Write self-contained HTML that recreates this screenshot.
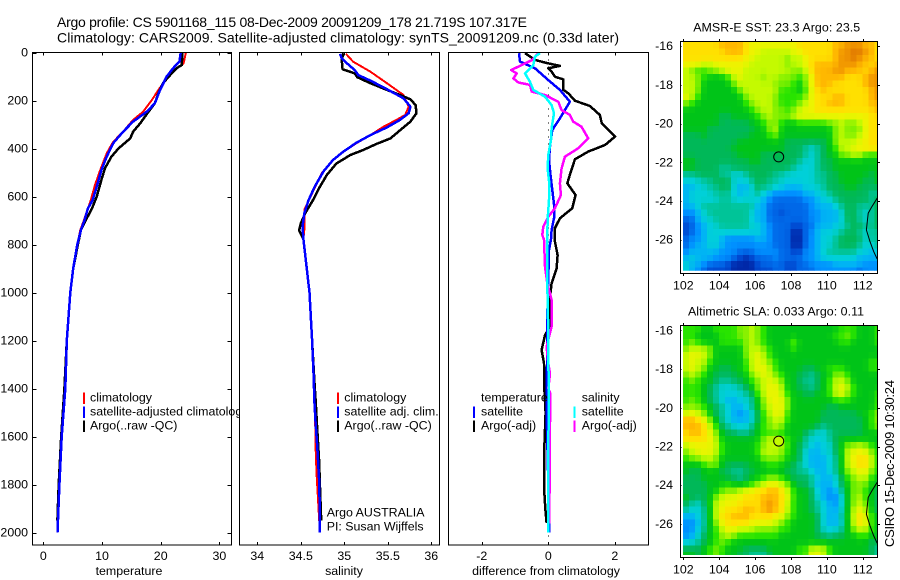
<!DOCTYPE html>
<html>
<head>
<meta charset="utf-8">
<title>Argo profile</title>
<style>
html,body{margin:0;padding:0;background:#fff;}
svg{display:block;}
text{font-family:"Liberation Sans",sans-serif;font-size:12.4px;fill:#000;}
</style>
</head>
<body>
<svg id="fig" xmlns="http://www.w3.org/2000/svg" width="900" height="580" viewBox="0 0 900 580"></svg>
<script>
// ---- temperature panel ----
const tempClimP = [0,45,66,108,156,198,247,281,330,372,420,490,552,615,700,740,800,900,1000,1200,1400,1600,1800,2000];
const tempClimV = [24.3,23.9,22.7,21.0,19.6,18.5,17.0,15.3,13.6,11.9,10.8,9.7,8.8,8.1,6.9,6.3,5.8,5.1,4.6,4.0,3.7,3.1,2.75,2.4];
const tempSatP = [0,38,66,101,156,212,247,288,330,378,434,490,559,615,650,700,740,800,900,1000,1200,1400,1600,1800,2000];
const tempSatV = [23.4,23.2,22.1,21.0,19.9,19.0,17.6,15.3,13.6,11.9,10.8,9.9,9.1,8.4,7.6,7.0,6.4,5.8,5.1,4.6,4.0,3.75,3.13,2.75,2.42];
const tempArgoP = [0,52,66,94,128,170,212,247,295,330,358,400,434,483,531,601,650,700,740,800,900,1000,1200,1400,1600,1800,1950];
const tempArgoV = [23.7,23.6,22.7,21.6,20.4,19.6,19.0,17.9,16.5,15.3,14.8,12.8,11.6,10.5,9.9,9.1,8.3,7.2,6.4,5.9,5.1,4.6,4.0,3.6,3.05,2.62,2.4];
const tempTicks = [0,10,20,30];
const pressureTicks = [0,200,400,600,800,1000,1200,1400,1600,1800,2000];

// ---- salinity panel ----
const salClimP = [6,38,80,128,177,226,260,281,309,344,378,413,448,503,587,656,739,777,1000,1200,1365,1544,1644,1750,2000];
const salClimV = [35.02,35.10,35.30,35.49,35.68,35.74,35.70,35.60,35.45,35.30,35.14,34.99,34.87,34.74,34.63,34.54,34.54,34.53,34.6,34.63,34.65,34.665,34.67,34.68,34.72];
const salSatP = [6,24,45,73,94,117,153,191,226,253,281,312,344,376,413,448,496,559,615,670,726,777,1000,1200,1365,1448,1544,1644,1781,1920,2000];
const salSatV = [34.95,34.97,35.03,35.12,35.16,35.30,35.49,35.68,35.76,35.74,35.64,35.49,35.30,35.14,34.99,34.87,34.76,34.66,34.59,34.54,34.52,34.53,34.6,34.63,34.65,34.655,34.67,34.69,34.71,34.72,34.72];
const salArgoP = [3,31,70,87,103,128,156,177,195,219,253,288,312,358,381,406,427,462,510,559,615,670,712,742,777,1000,1200,1365,1448,1544,1700,1800,1950];
const salArgoV = [34.99,34.97,34.98,35.12,35.15,35.30,35.49,35.64,35.76,35.82,35.83,35.76,35.68,35.53,35.37,35.22,35.07,34.91,34.80,34.72,34.64,34.55,34.50,34.48,34.53,34.6,34.63,34.655,34.67,34.685,34.71,34.72,34.735];
const salTicks = [34,34.5,35,35.5,36];

// ---- difference panel ----
const diffTArgoP = [3,31,42,56,66,80,101,112,156,170,201,223,260,295,350,385,413,445,496,545,594,649,691,732,747,788,844,899,962,1017,1142,1177,1240,1295,1399,1500,1650,1830,1900,1960];
const diffTArgoV = [-0.70,-0.40,-0.10,0.35,0.0,0.10,0.20,0.45,0.45,0.60,0.80,1.25,1.55,1.61,2.01,1.71,1.20,0.80,0.68,0.57,0.82,0.72,0.35,0.20,0.20,0.20,0.28,0.25,0.10,0.05,0.05,-0.10,-0.20,-0.13,-0.12,-0.08,-0.12,-0.12,-0.09,-0.05];
const diffTSatP = [3,38,66,115,156,205,274,323,392,448,503,573,642,684,739,777,823,1100,1170,1500,1962,2000];
const diffTSatV = [-0.88,-0.85,-0.40,0.0,0.35,0.65,0.35,0.12,0.05,0.02,0.06,0.12,0.18,0.18,0.10,0.08,0.02,-0.03,-0.03,-0.05,0.03,0.03];
const diffSArgoP = [3,31,56,73,87,108,125,135,163,177,205,240,260,288,309,358,399,434,483,545,594,649,684,726,760,781,892,962,1031,1142,1226,1295,1337,1400,1420,1545,1962];
const diffSArgoV = [-0.30,-0.48,-0.85,-1.12,-0.95,-1.05,-0.90,-0.55,-0.50,-0.10,0.30,0.40,0.65,0.75,1.0,1.20,0.90,0.50,0.40,0.35,0.38,0.20,0.0,-0.15,-0.18,-0.13,-0.10,-0.03,0.10,0.10,-0.05,0.0,0.05,0.0,0.06,0.05,0.03];
const diffSSatP = [3,17,52,87,122,156,184,219,253,316,365,427,483,545,615,698,777,962,1170,1400,2000];
const diffSSatV = [-0.25,-0.40,-0.45,-0.70,-0.55,-0.45,-0.10,0.10,0.17,0.10,0.08,0.0,-0.02,0.03,0.02,-0.02,-0.03,-0.03,0.0,0.01,0.0];
const diffTicks = [-2,0,2];

// ---- maps ----
const lonTicks = [102,104,106,108,110,112];
const latTicks = [-16,-18,-20,-22,-24,-26];
const coastLon = [112.8,112.5,112.3,112.2,112.4,112.6,112.8];
const coastLat = [-23.85,-24.3,-24.63,-25.5,-26.1,-26.6,-27.0];
const floatLon = 107.317;
const floatLat = -21.719;
const levelColors = [[0,40,168],[0,72,208],[0,104,232],[0,144,255],[0,180,244],[0,208,216],[0,196,152],[0,184,88],[0,196,24],[40,228,0],[128,240,0],[196,250,0],[236,244,0],[255,224,0],[255,184,0],[240,148,0],[224,120,0]];
const sstGrid = [
[13,13,13,13,13,13,14,14,14,14,13,12,12,12,12,12,12,12,12,13,13,13,13,13,13,14,14,15,15,15,14,14,13],
[13,13,13,13,13,13,13,14,14,14,13,12,12,11,11,11,11,11,12,12,13,13,13,13,13,14,15,15,16,16,15,14,13],
[13,13,13,13,13,13,13,13,13,13,12,12,11,11,11,11,11,10,11,11,12,13,13,13,13,14,15,15,16,15,14,14,13],
[12,12,12,11,11,12,12,12,12,12,12,11,11,11,11,11,11,10,11,11,12,13,14,14,14,14,15,15,15,14,14,13,14],
[11,10,9,9,10,10,11,12,12,12,11,11,11,11,11,11,11,11,10,10,11,13,14,14,14,15,15,14,14,14,13,14,15],
[11,11,10,9,8,8,8,9,11,12,11,11,11,10,11,11,10,10,10,9,10,12,14,14,14,14,14,13,13,13,14,15,15],
[11,11,10,8,8,8,8,8,10,11,11,11,11,11,11,10,10,10,9,8,10,12,14,14,14,13,13,13,13,13,14,15,15],
[11,11,10,8,8,8,8,8,8,10,11,11,11,11,11,11,9,9,9,8,9,12,13,14,13,13,13,13,13,13,13,14,15],
[12,11,9,8,8,8,8,8,8,8,10,11,11,11,11,10,9,9,9,9,10,12,13,13,13,14,14,13,13,13,13,14,15],
[10,9,8,8,8,8,8,8,8,8,9,10,11,11,11,10,9,9,9,10,11,12,13,13,14,14,14,13,13,13,13,14,14],
[8,8,8,8,8,8,8,8,8,8,8,9,10,11,11,10,10,9,10,11,12,12,13,13,13,13,13,13,13,13,13,13,14],
[8,8,8,8,8,8,7,7,8,8,8,8,9,10,11,10,10,10,11,12,12,12,12,12,12,12,12,12,12,12,12,13,13],
[8,8,8,8,8,8,7,7,7,7,7,8,8,9,10,10,9,8,8,9,9,9,9,9,10,10,11,10,10,11,12,13,13],
[8,8,8,8,7,7,7,7,7,7,7,7,8,8,10,11,8,8,8,8,8,8,8,8,8,10,11,10,10,10,12,13,13],
[7,7,7,8,7,7,7,7,7,7,7,8,8,8,9,10,8,8,8,8,8,8,8,8,8,10,11,10,10,11,12,13,13],
[7,7,7,7,7,7,7,7,7,8,8,8,8,8,8,8,8,7,7,7,7,7,7,7,8,10,11,11,11,12,12,13,13],
[7,7,7,7,7,7,7,7,8,8,8,8,8,8,8,8,8,7,7,7,6,5,6,7,8,9,11,11,12,12,13,13,13],
[7,7,7,7,7,7,7,7,7,8,8,8,8,7,7,7,7,7,7,7,6,5,6,7,8,8,10,10,11,11,9,9,9],
[8,8,7,7,7,7,7,7,7,7,7,8,8,7,7,7,7,7,7,6,5,5,6,7,7,8,8,8,8,8,8,8,8],
[8,8,7,7,7,7,6,6,7,7,7,7,7,7,7,7,7,7,6,5,5,5,6,7,7,8,8,8,8,8,8,8,8],
[6,6,7,7,7,7,6,6,5,5,6,7,7,7,7,6,6,5,5,5,5,5,6,6,7,7,8,8,8,8,8,7,8],
[5,5,5,6,6,7,7,7,5,5,5,6,7,7,6,6,5,5,5,5,5,5,6,6,7,7,8,8,8,8,7,7,8],
[4,4,5,5,6,6,7,7,5,4,4,5,7,6,6,5,5,4,4,4,5,5,5,6,7,7,7,8,8,7,7,7,7],
[4,5,5,5,5,6,6,6,5,4,5,5,6,5,4,3,3,3,3,3,4,4,5,5,6,7,7,7,7,7,7,6,6],
[4,5,5,5,5,5,6,6,5,5,5,5,5,4,3,2,2,2,2,2,3,3,4,5,5,6,7,7,7,7,7,6,7],
[4,4,5,6,6,6,6,6,6,6,6,6,4,4,2,2,2,2,2,2,2,3,4,4,4,5,6,7,7,6,6,6,7],
[3,3,4,5,6,6,6,6,6,6,6,5,4,4,2,2,1,2,2,2,2,3,3,4,4,4,5,7,7,6,5,6,7],
[2,2,4,5,5,6,6,6,6,6,6,5,4,4,2,2,2,2,2,2,2,3,3,4,4,4,5,7,7,6,5,6,7],
[1,2,3,4,5,5,6,6,6,6,6,5,5,4,3,2,2,2,1,1,2,2,4,4,4,5,5,6,7,7,6,6,7],
[1,2,3,4,5,5,5,5,5,5,5,5,5,4,3,2,2,2,0,0,2,3,4,5,5,5,6,7,7,6,5,6,6],
[2,3,3,4,5,5,4,3,3,3,3,3,4,4,3,2,2,2,0,0,2,3,4,5,5,6,7,7,7,7,5,6,6],
[2,3,4,4,5,5,4,3,3,3,3,3,3,3,3,2,2,2,0,0,2,3,4,5,5,6,7,7,7,6,5,5,6],
[3,4,4,4,4,4,3,3,3,2,2,2,3,3,3,3,2,2,1,1,3,3,4,5,6,6,6,6,6,5,5,4,5],
[4,5,4,4,4,3,3,3,2,1,0,1,2,2,2,3,2,2,2,2,3,3,4,5,5,5,5,5,5,4,4,4,4],
[5,4,4,3,2,2,2,1,0,0,0,0,1,2,2,2,2,1,1,2,2,3,3,3,3,4,4,4,4,4,3,3,3],
[5,4,3,2,1,1,1,1,0,0,0,0,1,1,1,2,2,1,1,2,2,2,3,3,3,3,3,3,3,2,3,3,3]
];
const slaGrid = [
[9,9,9,8,8,9,9,9,9,10,10,11,10,9,8,8,8,8,8,8,8,8,8,8,8,8,9,9,9,8,8,8,9],
[9,9,8,8,8,8,9,9,9,10,10,11,10,9,8,8,8,8,8,8,8,8,8,8,8,9,9,10,9,8,8,8,9],
[9,10,9,8,8,8,9,9,9,9,10,11,10,9,8,8,8,8,10,8,8,8,8,8,8,8,9,9,8,8,8,8,9],
[10,11,11,11,10,8,8,8,8,8,10,11,11,10,9,8,8,8,9,8,8,8,8,8,8,8,8,8,8,8,8,8,8],
[11,12,12,11,10,8,8,8,8,8,10,11,12,11,9,8,8,8,8,8,8,8,8,8,8,8,8,8,8,8,8,8,8],
[11,12,11,11,9,8,8,8,8,8,9,11,12,11,10,9,8,8,8,8,8,8,8,8,8,8,8,8,8,8,8,9,9],
[11,12,11,10,8,8,7,7,8,8,9,11,12,12,11,9,8,8,8,8,7,7,8,8,9,9,9,8,8,8,8,9,9],
[10,11,10,9,8,7,7,7,7,8,8,10,11,12,11,10,9,8,8,7,7,6,7,8,8,10,10,9,8,8,8,8,8],
[9,10,9,8,8,7,6,6,7,7,8,9,10,11,12,11,10,8,8,7,6,6,7,8,9,11,11,10,8,8,8,8,8],
[9,9,9,8,7,6,5,5,5,6,7,8,10,11,12,12,11,8,8,7,7,6,7,8,9,11,12,11,9,8,8,8,8],
[9,9,9,8,7,6,5,5,5,5,6,7,9,11,12,12,11,9,8,8,7,7,8,8,9,11,12,10,9,8,8,8,9],
[9,10,9,8,7,6,5,4,4,5,5,6,8,10,12,12,12,10,8,8,8,8,8,8,8,9,9,9,8,8,8,8,9],
[10,10,10,9,8,7,6,5,4,4,5,6,8,10,11,12,12,10,8,8,8,8,8,8,7,7,8,8,8,8,8,8,9],
[11,12,11,10,8,7,6,5,4,3,4,5,7,9,11,12,12,9,8,8,8,8,8,7,7,7,7,7,7,8,8,9,10],
[14,14,13,12,10,8,6,5,4,4,4,5,7,9,10,11,11,9,8,8,8,8,8,7,7,7,7,7,7,7,8,9,10],
[14,14,14,13,11,9,7,6,5,5,5,6,8,9,10,11,10,8,8,8,8,8,7,6,7,7,7,7,7,7,8,9,10],
[13,14,14,13,12,10,8,7,7,6,6,7,8,9,9,9,9,8,8,8,7,6,5,5,6,7,7,7,7,7,8,8,8],
[13,13,13,13,12,11,8,8,8,8,8,8,8,10,11,11,10,9,8,8,6,5,5,5,6,7,8,8,8,8,8,8,8],
[11,12,12,12,12,11,9,8,8,8,8,8,9,10,11,11,11,9,8,7,6,5,4,5,5,7,8,10,10,11,10,9,8],
[10,11,12,12,12,11,9,8,8,8,8,8,9,11,11,11,10,9,8,7,5,4,4,5,5,7,8,11,12,12,12,10,9],
[9,10,10,11,11,10,8,8,8,8,8,8,8,10,10,10,10,8,8,7,5,4,4,4,5,6,8,11,12,13,13,11,9],
[8,8,8,9,10,10,8,7,7,7,7,8,8,8,9,9,8,8,7,6,5,4,4,4,5,6,8,11,12,13,13,11,9],
[8,7,7,8,8,8,7,7,6,6,7,7,8,8,8,8,8,7,7,6,6,5,4,4,5,6,8,10,11,12,12,10,9],
[7,7,7,8,8,8,8,7,7,6,7,8,8,9,10,10,9,8,7,7,7,6,5,4,4,5,7,9,10,11,11,9,8],
[7,7,7,7,8,8,8,9,8,8,8,9,10,11,12,12,11,10,8,7,7,6,4,4,4,5,7,8,10,10,10,8,8],
[7,7,7,7,8,8,10,10,10,11,12,12,13,13,14,14,13,11,9,8,8,7,5,4,3,4,6,8,10,10,9,8,7],
[8,7,7,7,8,10,11,12,12,12,13,13,13,14,14,14,13,12,9,8,8,7,5,4,3,3,5,8,10,11,9,8,7],
[7,6,5,7,8,11,12,12,12,13,13,13,13,14,15,14,13,11,9,8,8,7,6,5,4,3,5,8,10,11,10,8,7],
[6,5,5,6,8,11,12,13,13,13,14,14,13,14,15,14,13,11,9,8,8,7,6,5,4,4,5,8,11,12,11,8,7],
[4,4,5,6,8,11,13,13,14,14,14,13,13,13,13,12,12,10,9,8,8,8,7,5,4,4,6,8,11,13,12,9,8],
[3,3,4,6,8,10,12,13,13,13,13,12,12,12,12,11,10,9,8,8,8,8,7,5,4,4,5,8,11,13,12,9,8],
[3,3,5,6,8,9,11,12,12,11,11,11,10,10,10,10,9,9,8,8,8,8,7,5,5,5,6,8,10,11,11,9,8],
[3,4,5,7,8,9,10,11,10,9,9,9,9,9,9,9,8,8,8,8,8,8,7,7,6,7,7,8,8,9,9,8,8],
[5,5,6,7,8,9,10,9,8,8,8,8,8,8,8,8,8,8,8,8,8,8,8,8,8,8,8,8,8,8,8,7,7],
[7,7,7,8,9,10,9,8,8,8,7,7,7,7,8,8,8,8,8,9,9,11,11,11,9,8,8,8,8,8,8,7,6],
[8,8,7,8,9,10,9,8,8,7,7,6,6,6,7,8,8,8,8,9,9,12,12,11,9,8,8,8,8,8,8,7,6]
];

const svg = document.getElementById('fig');
const NS = 'http://www.w3.org/2000/svg';

function make(tag, name, attrs, parent) {
  const el = document.createElementNS(NS, tag);
  
  
  for (const k in attrs) el.setAttribute(k, attrs[k]);
  (parent || svg).appendChild(el);
  return el;
}
function label(str, x, y, anchor, name, extra) {
  const t = make('text', name, Object.assign({x: x, y: y, 'text-anchor': anchor || 'start'}, extra || {}));
  t.textContent = str;
  return t;
}
function tick(x1, y1, x2, y2, name) {
  make('line', name, {x1: x1, y1: y1, x2: x2, y2: y2, stroke: '#000', 'stroke-width': 1, 'shape-rendering': 'crispEdges'});
}

// profile panel geometry
const PTOP = 52.5, PBOT = 545, PRES_SCALE = 0.24;
function yP(p) { return PTOP + p * PRES_SCALE; }
function xTemp(v) { return 43.3 + (v - 0) * 5.87; }
function xSal(v) { return 344.3 + (v - 35) * 87; }
function xDiff(v) { return 548.3 + v * 33.25; }

function panelFrame(name, left, right) {
  make('rect', name + '-background', {x: left, y: PTOP, width: right - left, height: PBOT - PTOP, fill: '#fff', stroke: 'none'});
}
function panelBox(name, left, right) {
  make('rect', name + '-frame', {x: left, y: PTOP, width: right - left, height: PBOT - PTOP, fill: 'none', stroke: '#000', 'stroke-width': 1, 'shape-rendering': 'crispEdges'});
}
function series(name, pList, vList, xf, color, width) {
  const pts = pList.map((p, i) => xf(vList[i]).toFixed(1) + ',' + yP(p).toFixed(1)).join(' ');
  make('polyline', name, {points: pts, fill: 'none', stroke: color, 'stroke-width': width || 2, 'stroke-linejoin': 'round', 'shape-rendering': 'crispEdges'});
}
function xAxis(ticks, xf, name) {
  ticks.forEach(v => {
    const x = Math.round(xf(v)) + 0.5;
    tick(x, PTOP, x, PTOP + 3, name + '-top-tick');
    tick(x, PBOT, x, PBOT - 3, name + '-bottom-tick');
    label(String(v), xf(v), 560, 'middle', name + '-tick-label');
  });
}
function legendBar(x, y, color, name) {
  make('rect', name, {x: x, y: y, width: 2, height: 11.5, fill: color, 'shape-rendering': 'crispEdges'});
}

// Panel 1
panelFrame('temperature-panel', 32.5, 231.5);
series('temperature-climatology-line', tempClimP, tempClimV, xTemp, '#ff0000');
series('temperature-argo-line', tempArgoP, tempArgoV, xTemp, '#000000', 2.5);
series('temperature-satellite-line', tempSatP, tempSatV, xTemp, '#0000ff', 2.5);
panelBox('temperature-panel', 32.5, 231.5);
xAxis(tempTicks, xTemp, 'temperature-axis');
pressureTicks.forEach(p => {
  const y = Math.round(yP(p)) + 0.5;
  tick(32.5, y, 36.5, y, 'pressure-left-tick');
  tick(231.5, y, 227.5, y, 'pressure-right-tick');
  label(String(p), 28, yP(p) + 4, 'end', 'pressure-tick-label');
});
label('temperature', 129, 575, 'middle', 'temperature-axis-title');
legendBar(83, 392.7, '#ff0000', 'legend-climatology-swatch');
legendBar(83, 406.7, '#0000ff', 'legend-satellite-swatch');
legendBar(83, 420.7, '#000000', 'legend-argo-swatch');
label('climatology', 90, 401.7, 'start', 'legend-climatology-label');
label('satellite-adjusted climatology', 90, 415.7, 'start', 'legend-satellite-label');
label('Argo(..raw -QC)', 90, 429.7, 'start', 'legend-argo-label');

// Panel 2
panelFrame('salinity-panel', 239.5, 439.5);
series('salinity-climatology-line', salClimP, salClimV, xSal, '#ff0000');
series('salinity-argo-line', salArgoP, salArgoV, xSal, '#000000', 2.5);
series('salinity-satellite-line', salSatP, salSatV, xSal, '#0000ff', 2.5);
panelBox('salinity-panel', 239.5, 439.5);
xAxis(salTicks, xSal, 'salinity-axis');
label('salinity', 344, 575, 'middle', 'salinity-axis-title');
legendBar(337, 392.7, '#ff0000', 'salinity-legend-climatology-swatch');
legendBar(337, 406.7, '#0000ff', 'salinity-legend-satellite-swatch');
legendBar(337, 420.7, '#000000', 'salinity-legend-argo-swatch');
label('climatology', 344.3, 401.7, 'start', 'salinity-legend-climatology-label');
label('satellite adj. clim.', 344.3, 415.7, 'start', 'salinity-legend-satellite-label');
label('Argo(..raw -QC)', 344.3, 429.7, 'start', 'salinity-legend-argo-label');
label('Argo AUSTRALIA', 326.7, 516.7, 'start', 'argo-australia-note');
label('PI: Susan Wijffels', 326.7, 530.7, 'start', 'principal-investigator-note');

// Panel 3
panelFrame('difference-panel', 448.5, 648.5);
make('line', 'zero-reference-line', {x1: xDiff(0), y1: PTOP, x2: xDiff(0), y2: PBOT, stroke: '#000', 'stroke-width': 1, 'stroke-dasharray': '1 6', 'shape-rendering': 'crispEdges'});
series('difference-temperature-argo-line', diffTArgoP, diffTArgoV, xDiff, '#000000', 2.5);
series('difference-temperature-satellite-line', diffTSatP, diffTSatV, xDiff, '#0000ff', 2.5);
series('difference-salinity-argo-line', diffSArgoP, diffSArgoV, xDiff, '#ff00ff', 2.5);
series('difference-salinity-satellite-line', diffSSatP, diffSSatV, xDiff, '#00ffff', 2.5);
panelBox('difference-panel', 448.5, 648.5);
xAxis(diffTicks, xDiff, 'difference-axis');
label('difference from climatology', 546, 575, 'middle', 'difference-axis-title');
label('temperature', 481, 401.7, 'start', 'difference-legend-temperature-heading');
label('satellite', 481, 415.7, 'start', 'difference-legend-temperature-satellite-label');
label('Argo(-adj)', 481, 429.7, 'start', 'difference-legend-temperature-argo-label');
label('salinity', 581.7, 401.7, 'start', 'difference-legend-salinity-heading');
label('satellite', 581.7, 415.7, 'start', 'difference-legend-salinity-satellite-label');
label('Argo(-adj)', 581.7, 429.7, 'start', 'difference-legend-salinity-argo-label');
legendBar(473, 406.7, '#0000ff', 'difference-legend-temperature-satellite-swatch');
legendBar(473, 420.7, '#000000', 'difference-legend-temperature-argo-swatch');
legendBar(573.5, 406.7, '#00ffff', 'difference-legend-salinity-satellite-swatch');
legendBar(573.5, 420.7, '#ff00ff', 'difference-legend-salinity-argo-swatch');

// Maps
const LON_SCALE = 17.95, LAT_SCALE = 19.35, CELL = 1 / 3;
const GRID_LON0 = 101.98, GRID_LAT0 = -15.78;
function levelColor(v) {
  const lo = Math.max(0, Math.min(levelColors.length - 1, Math.floor(v)));
  const hi = Math.min(levelColors.length - 1, lo + 1);
  const f = v - lo;
  const a = levelColors[lo], b = levelColors[hi];
  return 'rgb(' + [0, 1, 2].map(i => Math.round(a[i] + (b[i] - a[i]) * f)).join(',') + ')';
}
function softened(grid, r, c) {
  const at = (rr, cc) => (grid[rr] && grid[rr][cc] !== undefined) ? grid[rr][cc] : grid[r][c];
  return (4 * grid[r][c] + at(r - 1, c) + at(r + 1, c) + at(r, c - 1) + at(r, c + 1)) / 8;
}
function drawMap(name, grid, yOf16, boxTop, imgBottom, labelY, markerFill) {
  const boxL = 680.5, boxR = 877.5, boxB = boxTop + 232;
  const mapX = lon => 683.3 + (lon - 102) * LON_SCALE;
  const mapY = lat => yOf16 + (-16 - lat) * LAT_SCALE;
  const clipId = name + '-clip';
  const defs = make('clipPath', name + '-clip-region', {id: clipId});
  make('rect', name + '-clip-rect', {x: 681.5, y: boxTop, width: boxR - 681.5, height: imgBottom - boxTop}, defs);
  const group = make('g', name + '-heatmap', {'clip-path': 'url(#' + clipId + ')'});
  grid.forEach((row, r) => {
    row.forEach((v, c) => {
      const lonW = GRID_LON0 + c * CELL;
      const latN = GRID_LAT0 - r * CELL;
      const x0 = mapX(lonW), x1 = mapX(lonW + CELL);
      const y0 = mapY(latN), y1 = mapY(latN - CELL);
      make('rect', name + '-cell', {x: x0.toFixed(2), y: y0.toFixed(2), width: (x1 - x0 + 0.4).toFixed(2), height: (y1 - y0 + 0.4).toFixed(2), fill: levelColor(softened(grid, r, c)), 'shape-rendering': 'crispEdges'}, group);
    });
  });
  const coastPts = coastLon.map((lo, i) => mapX(lo).toFixed(1) + ',' + mapY(coastLat[i]).toFixed(1)).join(' ');
  make('polyline', name + '-coastline', {points: coastPts, fill: 'none', stroke: '#000', 'stroke-width': 1, 'clip-path': 'url(#' + clipId + ')'});
  make('rect', name + '-frame', {x: boxL, y: boxTop, width: boxR - boxL, height: boxB - boxTop, fill: 'none', stroke: '#000', 'stroke-width': 1, 'shape-rendering': 'crispEdges'});
  lonTicks.forEach(v => {
    const x = Math.round(mapX(v)) + 0.5;
    tick(x, boxTop, x, boxTop - 2.5, name + '-x-top-tick');
    tick(x, boxB, x, boxB + 2.5, name + '-x-bottom-tick');
    label(String(v), mapX(v), labelY, 'middle', name + '-longitude-label');
  });
  latTicks.forEach(v => {
    const y = Math.round(mapY(v)) + 0.5;
    tick(boxL, y, boxL + 1, y, name + '-y-left-tick');
    tick(boxR, y, boxR + 2.5, y, name + '-y-right-tick');
    label(String(v), 673, mapY(v) + 4, 'end', name + '-latitude-label');
  });
  make('circle', name + '-float-marker', {cx: mapX(floatLon).toFixed(1), cy: mapY(floatLat).toFixed(1), r: 5, fill: markerFill, stroke: '#000', 'stroke-width': 1});
}
drawMap('sst-map', sstGrid, 46.2, 41.5, 270.7, 289.3, 'none');
drawMap('sla-map', slaGrid, 330.4, 325.5, 555, 573.3, '#c4fa00');
label('AMSR-E SST: 23.3 Argo: 23.5', 776.7, 31.7, 'middle', 'sst-map-title', {textLength: 167, lengthAdjust: 'spacing'});
label('Altimetric SLA: 0.033 Argo: 0.11', 776, 315.7, 'middle', 'sla-map-title', {textLength: 176, lengthAdjust: 'spacing'});

// Titles
label('Argo profile: CS 5901168_115 08-Dec-2009 20091209_178 21.719S 107.317E', 57, 27, 'start', 'figure-title-line-1', {textLength: 470, lengthAdjust: 'spacing', style: 'font-size:14px'});
label('Climatology: CARS2009. Satellite-adjusted climatology: synTS_20091209.nc (0.33d later)', 57, 42.5, 'start', 'figure-title-line-2', {textLength: 562, lengthAdjust: 'spacing', style: 'font-size:14px'});
label('CSIRO 15-Dec-2009 10:30:24', 0, 0, 'middle', 'timestamp-label', {transform: 'translate(894 463.5) rotate(-90)', textLength: 167, lengthAdjust: 'spacing', style: 'font-size:13px'});
</script>
</body>
</html>
